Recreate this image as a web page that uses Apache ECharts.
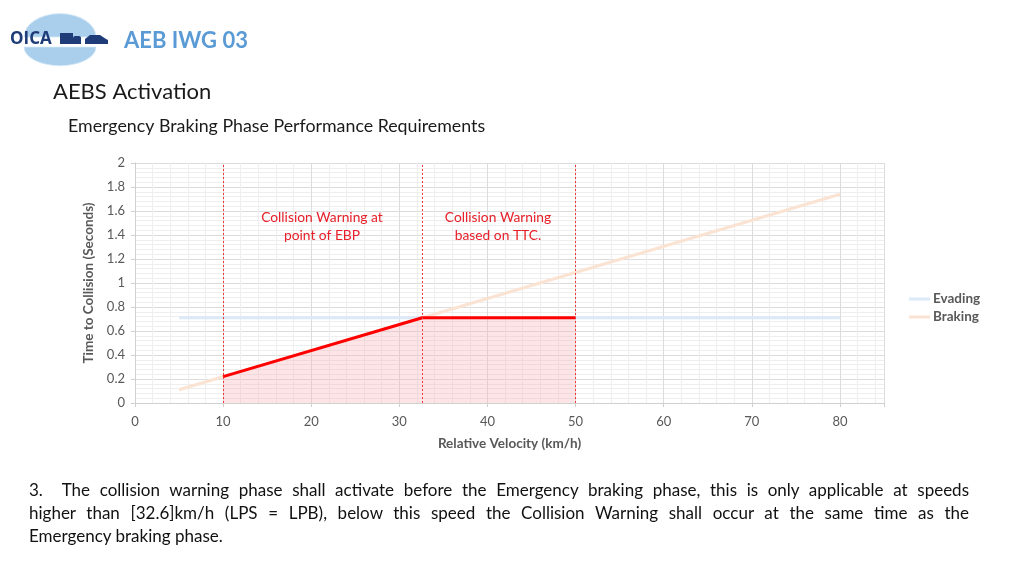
<!DOCTYPE html>
<html>
<head>
<meta charset="utf-8">
<script src="https://cdn.jsdelivr.net/npm/echarts@6/dist/echarts.min.js"></script>
<style>
html,body{margin:0;padding:0;background:#fff;}
#chart{position:absolute;left:0;top:0;width:1024px;height:576px;}
#para{position:absolute;left:29px;top:478px;width:940px;font-family:Lato,'Open Sans',sans-serif;font-size:17px;line-height:23px;color:#111;}
#para div{white-space:nowrap;}
#para .j{text-align:justify;text-align-last:justify;white-space:normal;}
</style>
</head>
<body>
<div id="chart"></div>
<div id="para">
<div class="j">3.&nbsp; The collision warning phase shall activate before the Emergency braking phase, this is only applicable at speeds</div>
<div class="j">higher than [32.6]km/h (LPS = LPB), below this speed the Collision Warning shall occur at the same time as the</div>
<div>Emergency braking phase.</div>
</div>
<script>
// ---- data ----
const evadingX = [5, 80];
const evadingY = [0.71, 0.71];
const brakingX = [5, 80];
const brakingY = [0.11, 1.74];
const warningX = [10, 32.6, 50];
const warningY = [0.22, 0.71, 0.71];
const phaseBounds = [10, 32.6, 50];
const xTicks = [0, 10, 20, 30, 40, 50, 60, 70, 80];
const yTicks = [0, 0.2, 0.4, 0.6, 0.8, 1, 1.2, 1.4, 1.6, 1.8, 2];

const zip = (xs, ys) => xs.map((x, i) => [x, ys[i]]);
const font = 'Lato, "Open Sans", sans-serif';

const chart = echarts.init(document.getElementById('chart'));
chart.setOption({
  animation: false,
  backgroundColor: '#fff',
  textStyle: { fontFamily: font },
  grid: { left: 135, right: 140, top: 163, bottom: 173 },
  legend: {
    data: ['Evading', 'Braking'],
    orient: 'vertical',
    left: 904, top: 287,
    itemWidth: 21, itemHeight: 3, itemGap: 4,
    icon: 'rect',
    textStyle: { fontSize: 13.5, fontWeight: 'bold', color: '#595959', fontFamily: font, padding: [0, 0, 0, -2] }
  },
  xAxis: {
    type: 'value', min: 0, max: 85, interval: 10,
    name: 'Relative Velocity (km/h)', nameLocation: 'middle', nameGap: 34,
    nameTextStyle: { fontSize: 13.5, fontWeight: 'bold', color: '#595959' },
    axisLine: { show: true, lineStyle: { color: '#d0d0d0' } },
    axisTick: { show: true, length: 4, lineStyle: { color: '#d0d0d0' } },
    axisLabel: { fontSize: 13, color: '#595959', margin: 12,
      formatter: v => xTicks.includes(v) ? String(v) : '' },
    splitLine: { show: true, lineStyle: { color: '#dcdcdc' } },
    minorTick: { show: false, splitNumber: 5 },
    minorSplitLine: { show: true, lineStyle: { color: '#eeeeee' } }
  },
  yAxis: {
    type: 'value', min: 0, max: 2, interval: 0.2,
    name: 'Time to Collision (Seconds)', nameLocation: 'middle', nameGap: 36, nameRotate: 90,
    nameTextStyle: { fontSize: 13.5, fontWeight: 'bold', color: '#595959' },
    axisLine: { show: true, lineStyle: { color: '#d0d0d0' } },
    axisTick: { show: true, length: 4, lineStyle: { color: '#d0d0d0' } },
    axisLabel: { fontSize: 13, color: '#595959', margin: 10,
      formatter: v => { const t = yTicks.find(y => Math.abs(y - v) < 1e-9); return t === undefined ? '' : String(t); } },
    splitLine: { show: true, lineStyle: { color: '#dcdcdc' } },
    minorTick: { show: false, splitNumber: 5 },
    minorSplitLine: { show: true, lineStyle: { color: '#eeeeee' } }
  },
  series: [
    {
      name: 'Evading', type: 'line', data: zip(evadingX, evadingY),
      symbol: 'none', color: '#dce9f6', lineStyle: { width: 3, color: '#dce9f6' }, z: 3
    },
    {
      name: 'Braking', type: 'line', data: zip(brakingX, brakingY),
      symbol: 'none', color: '#fbe3d3', lineStyle: { width: 3, color: '#fbe3d3' }, z: 3
    },
    {
      name: 'Warning', type: 'line', data: zip(warningX, warningY),
      symbol: 'none', color: '#ff0000', lineStyle: { width: 3, color: '#ff0000' },
      areaStyle: { color: 'rgba(248,170,175,0.45)' }, z: 4,
      markLine: {
        silent: true, symbol: 'none', label: { show: false },
        lineStyle: { color: '#f03a3a', type: [2, 2], width: 1, opacity: 1 },
        data: phaseBounds.map(x => ({ xAxis: x }))
      }
    }
  ],
  graphic: [
    // logo globe halves
    { type: 'sector', z: 100, shape: { cx: 60, cy: 37, r: 36, r0: 0, startAngle: Math.PI, endAngle: 2 * Math.PI }, scaleY: 0.65, originY: 37, style: { fill: '#a9cfec', stroke: '#d6e8f6', lineWidth: 1 } },
    { type: 'sector', z: 100, shape: { cx: 60, cy: 47, r: 36, r0: 0, startAngle: 0, endAngle: Math.PI }, scaleY: 0.52, originY: 47, style: { fill: '#a9cfec', stroke: '#d6e8f6', lineWidth: 1 } },
    { type: 'text', z: 101, x: 10, y: 31, style: { text: 'OICA', font: 'bold 17px "Open Sans", sans-serif', fill: '#1f3c78' } },
    { type: 'rect', z: 101, shape: { x: 60, y: 33, width: 13, height: 11 }, style: { fill: '#1f3c78' } },
    { type: 'rect', z: 101, shape: { x: 73, y: 36, width: 8, height: 8, r: [2, 2, 0, 0] }, style: { fill: '#1f3c78' } },
    { type: 'polygon', z: 101, shape: { points: [[85, 44], [85, 39], [90, 35], [100, 35], [106, 39], [108, 40], [108, 44]] }, style: { fill: '#1f3c78' } },
    { type: 'text', z: 101, x: 124, y: 30, style: { text: 'AEB IWG 03', font: 'bold 22px ' + font, fill: '#5b9bd5' } },
    // titles
    { type: 'text', z: 101, x: 53, y: 81, style: { text: 'AEBS Activation', font: '22px ' + font, fill: '#1a1a1a' } },
    { type: 'text', z: 101, x: 68, y: 117, style: { text: 'Emergency Braking Phase Performance Requirements', font: '17.8px ' + font, fill: '#1a1a1a' } },
    // annotations
    { type: 'text', z: 101, x: 322, y: 209, style: { text: 'Collision Warning at\npoint of EBP', font: '13.8px ' + font, fill: '#e8202a', align: 'center', lineHeight: 18 } },
    { type: 'text', z: 101, x: 498, y: 209, style: { text: 'Collision Warning\nbased on TTC.', font: '13.8px ' + font, fill: '#e8202a', align: 'center', lineHeight: 18 } }
  ]
});
</script>
</body>
</html>
